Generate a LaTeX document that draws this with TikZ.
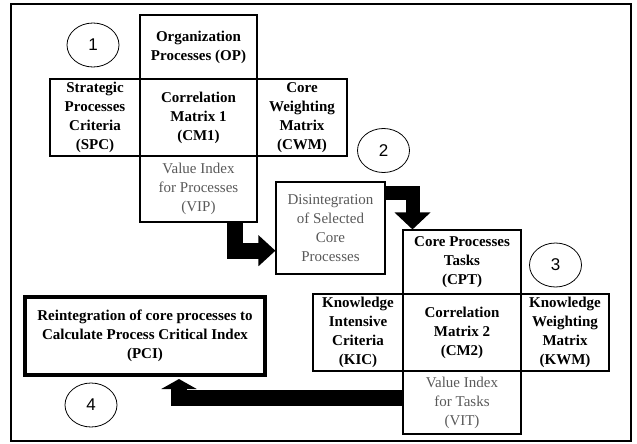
\documentclass[tikz,border=0pt]{standalone}
\usepackage{fontspec}
\setmainfont{Liberation Serif}
\newfontfamily\numfont{Liberation Sans}
\usetikzlibrary{arrows.meta,shapes.geometric}
\tikzset{
  cell/.style={draw=black, line width=1.1pt, inner sep=1pt, align=center,
    font=\fontsize{15}{19}\selectfont\bfseries},
  lightcell/.style={cell, font=\fontsize{15}{19}\selectfont, text=black!65},
  numcirc/.style={draw=black, line width=0.8pt, ellipse, inner sep=0pt,
    minimum width=52pt, minimum height=44pt, font=\numfont\fontsize{17}{20}\selectfont},
  bigarrow/.style={line width=#1, draw=black}
}
\begin{document}
\begin{tikzpicture}[x=1pt,y=-1pt]
\useasboundingbox (0,0) rectangle (637,444);
\draw[line width=1.2pt] (11,4) rectangle (631,441);

% matrix 1
\node[cell, minimum width=117pt, minimum height=64pt] (OP) at (198.5,47) {Organization\\Processes (OP)};
\node[cell, minimum width=90pt, minimum height=77pt] (SPC) at (95,117.5) {Strategic\\Processes\\Criteria\\(SPC)};
\node[cell, minimum width=117pt, minimum height=77pt] (CM1) at (198.5,117.5) {Correlation\\Matrix 1\\(CM1)};
\node[cell, minimum width=90pt, minimum height=77pt] (CWM) at (302,117.5) {Core\\Weighting\\Matrix\\(CWM)};
\node[lightcell, minimum width=117pt, minimum height=66pt] (VIP) at (198.5,189) {Value Index\\for Processes\\(VIP)};

% disintegration
\node[lightcell, minimum width=109pt, minimum height=92pt] (DIS) at (330.5,228) {Disintegration\\of Selected\\Core\\Processes};

% matrix 2
\node[cell, minimum width=118pt, minimum height=64pt] (CPT) at (462,262) {Core Processes\\Tasks\\(CPT)};
\node[cell, minimum width=90pt, minimum height=77pt] (KIC) at (358,332.5) {Knowledge\\Intensive\\Criteria\\(KIC)};
\node[cell, minimum width=118pt, minimum height=77pt] (CM2) at (462,332.5) {Correlation\\Matrix 2\\(CM2)};
\node[cell, minimum width=88pt, minimum height=77pt] (KWM) at (565,332.5) {Knowledge\\Weighting\\Matrix\\(KWM)};
\node[lightcell, minimum width=118pt, minimum height=63pt] (VIT) at (462,402.5) {Value Index\\for Tasks\\(VIT)};

% PCI
\node[cell, line width=4pt, minimum width=240pt, minimum height=78pt] (PCI) at (145,336) {Reintegration of core processes to\\Calculate Process Critical Index\\(PCI)};

% circles
\node[numcirc] (c1) at (93,45) {1};
\node[numcirc] (c2) at (383.5,150.5) {2};
\node[numcirc] (c3) at (555.5,265) {3};
\node[numcirc] (c4) at (91,405) {4};

% arrows
\draw[bigarrow=16pt, -{Triangle[width=30pt,length=17pt]}]
  ([xshift=36pt]VIP.south) |- ([yshift=-22.7pt]DIS.west);
\draw[bigarrow=14pt, -{Triangle[width=35pt,length=17pt]}]
  ([yshift=-11.3pt]DIS.north east) -| ([xshift=-49.5pt]CPT.north);
\draw[bigarrow=16pt, -{Triangle[width=35pt,length=10pt]}]
  ([yshift=5pt]VIT.west) -| ([xshift=34pt,yshift=-2pt]PCI.south);
\end{tikzpicture}
\end{document}
